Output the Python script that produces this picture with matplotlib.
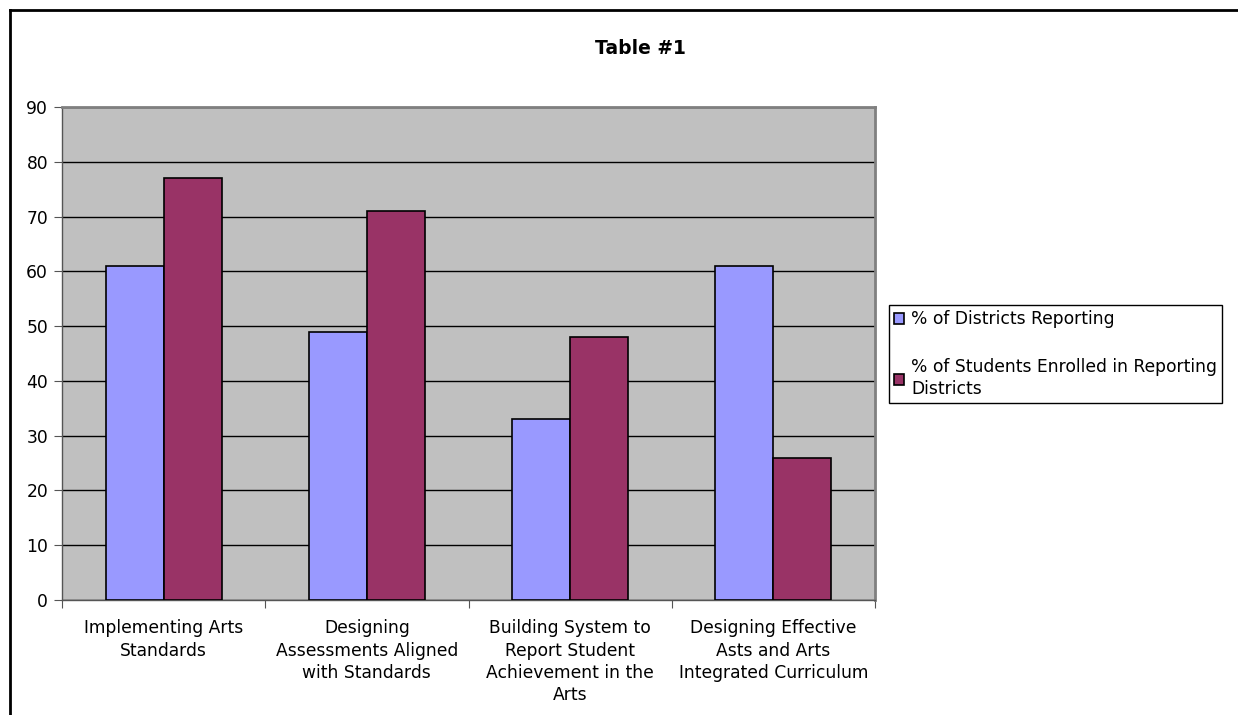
import numpy as np
import matplotlib.pyplot as plt
from matplotlib.lines import Line2D

categories = ['Implementing Arts\nStandards',
              'Designing\nAssessments Aligned\nwith Standards',
              'Building System to\nReport Student\nAchievement in the\nArts',
              'Designing Effective\nAsts and Arts\nIntegrated Curriculum']
districts = [61, 49, 33, 61]
students = [77, 71, 48, 26]
labels = ['% of Districts Reporting',
          '% of Students Enrolled in Reporting\nDistricts']

fig = plt.figure(figsize=(12.38, 7.15), dpi=100)
ax = fig.add_axes([62/1238, 1-600/715, 813/1238, 493/715])
ax.set_facecolor('#C0C0C0')

x = np.arange(len(categories))
w = 1/3.5
ax.bar(x - w/2, districts, w, color='#9999FF', edgecolor='black', linewidth=1.2, label=labels[0], zorder=3)
ax.bar(x + w/2, students, w, color='#993366', edgecolor='black', linewidth=1.2, label=labels[1], zorder=3)

ax.set_xlim(-0.5, 3.5)
ax.set_ylim(0, 90)
ax.set_yticks(np.arange(0, 91, 10))
ax.yaxis.grid(True, color='black', linewidth=1, zorder=1)
ax.set_axisbelow(True)

fs = 12.3
ax.set_xticks(np.arange(-0.5, 3.6, 1))
ax.set_xticklabels([])
ax.set_xticks(x, minor=True)
ax.set_xticklabels(categories, minor=True, fontsize=fs, linespacing=1.3)
ax.tick_params(axis='x', which='minor', length=0, pad=14)
ax.tick_params(axis='x', which='major', length=6, color='#555555', direction='out')
ax.tick_params(axis='y', length=6, color='#555555', labelsize=fs, pad=4)

for s in ['top', 'right']:
    ax.spines[s].set_color('#808080')
    ax.spines[s].set_linewidth(2)
for s in ['left', 'bottom']:
    ax.spines[s].set_color('#555555')
    ax.spines[s].set_linewidth(1)

fig.text(0.517, 1-48/715, 'Table #1', ha='center', va='center', fontsize=13.5, fontweight='bold')

leg = fig.legend(loc='upper left', bbox_to_anchor=(889/1238, 1-305/715), fontsize=fs,
                 frameon=True, fancybox=False, edgecolor='black', framealpha=1,
                 handlelength=0.6, handleheight=0.6, handletextpad=0.4,
                 labelspacing=1.75, borderpad=0.3, borderaxespad=0)
leg.get_frame().set_linewidth(1)
for t in leg.get_texts():
    t.set_linespacing(1.3)

# outer chart border (top and left)
fig.add_artist(Line2D([9.5/1238, 1], [1-9.5/715, 1-9.5/715], color='black', linewidth=2))
fig.add_artist(Line2D([9.5/1238, 9.5/1238], [0, 1-9.5/715], color='black', linewidth=2))

plt.savefig('out.png', dpi=100)
